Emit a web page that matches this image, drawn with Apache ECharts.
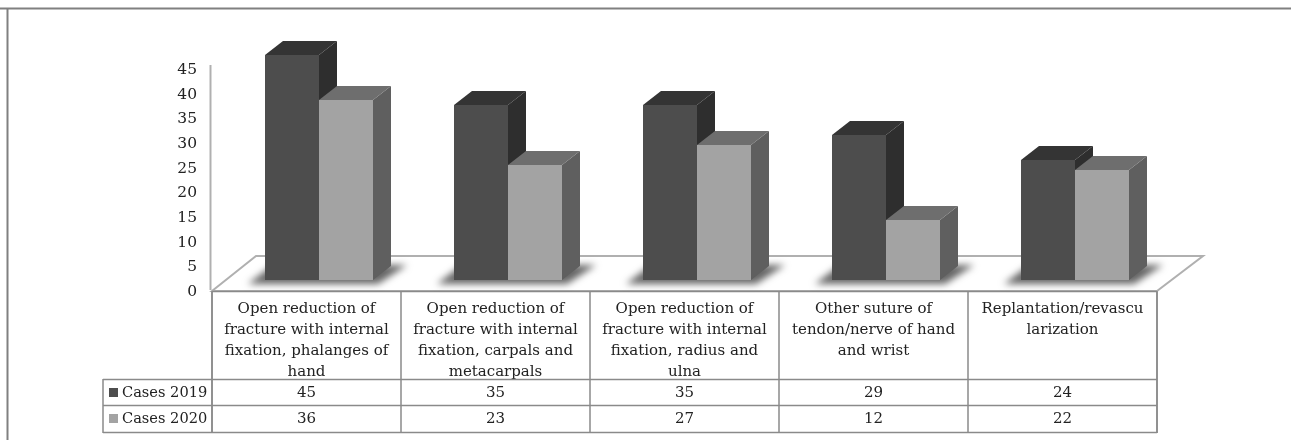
<!DOCTYPE html>
<html><head><meta charset="utf-8">
<style>html,body{margin:0;padding:0;background:#fff}#c{width:1291px;height:440px}</style>
<script src="https://cdn.jsdelivr.net/npm/echarts@6/dist/echarts.min.js"></script>
</head><body><div id="c"></div>
<script>
const categories = [
  'Open reduction of\nfracture with internal\nfixation, phalanges of\nhand',
  'Open reduction of\nfracture with internal\nfixation, carpals and\nmetacarpals',
  'Open reduction of\nfracture with internal\nfixation, radius and\nulna',
  'Other suture of\ntendon/nerve of hand\nand wrist',
  'Replantation/revascu\nlarization'
];
const cases2019 = [45, 35, 35, 29, 24];
const cases2020 = [36, 23, 27, 12, 22];
const seriesNames = ['Cases 2019', 'Cases 2020'];
const tickValues = [0, 45, 5];

const FONT = '"DejaVu Serif"', TXT = '#222', LINE = '#8a8a8a', FLOOR = '#b0b0b0';
const DX = 18, DY = 14, FAR = 3000;
const dark = {front:'#4d4d4d', top:'#343434', side:'#2e2e2e'};
const light = {front:'#a3a3a3', top:'#6e6e6e', side:'#5f5f5f'};

function barSeries(name, values, pal, slot) {
  return {
    type:'custom', name, xAxisIndex:1, yAxisIndex:1, z:5, clip:false,
    data: values.map((v,i)=>[i,v]),
    renderItem(params, api) {
      const band = api.size([1,0])[0], w = band*2/7;
      const p = api.coord([api.value(0), api.value(1)]);
      const b = api.coord([api.value(0), 0]);
      const x0 = p[0] + (slot-1)*w, x1 = x0+w, y0 = p[1], y1 = b[1];
      const poly = (pts, fill) => ({type:'polygon', shape:{points:pts}, style:{fill}});
      return {type:'group', children:[
        poly([[x1,y0],[x1+DX,y0-DY],[x1+DX,y1-DY],[x1,y1]], pal.side),
        poly([[x0,y0],[x0+DX,y0-DY],[x1+DX,y0-DY],[x1,y0]], pal.top),
        poly([[x0,y0],[x1,y0],[x1,y1],[x0,y1]], pal.front)
      ]};
    }
  };
}

const shadowSeries = {
  type:'custom', name:'shadow', xAxisIndex:1, yAxisIndex:1, z:3, clip:false, silent:true,
  data: categories.map((c,i)=>[i,0]),
  renderItem(params, api) {
    const band = api.size([1,0])[0], w = band*2/7;
    const b = api.coord([api.value(0), 0]);
    const L = b[0]-w-FAR, R = b[0]+w-FAR, y = b[1];
    return {type:'polygon', shape:{points:[[L-17,y+4],[R+5,y+4],[R+34,y-15],[L+8,y-15]]},
      style:{fill:'#555', shadowColor:'#666', shadowBlur:7, shadowOffsetX:FAR}};
  }
};

const tableSeries = {
  type:'custom', name:'table', xAxisIndex:2, yAxisIndex:2, z:6, silent:true, clip:false,
  data: categories.map((c,i)=>[i,0]),
  renderItem(params, api) {
    const i = api.value(0), x = api.coord([i,0])[0];
    const t = (s,y)=>({type:'text', style:{text:String(s), x, y, align:'center', verticalAlign:'middle',
      font:'15px '+FONT, fill:TXT}});
    return {type:'group', children:[t(cases2019[i],393), t(cases2020[i],419)]};
  }
};

const ln = (x1,y1,x2,y2,c,w)=>({type:'line', shape:{x1,y1,x2,y2}, style:{stroke:c,lineWidth:w||1.5}, z:1});
const graphics = [
  ln(0,8.5,1291,8.5,'#808080',2), ln(7.5,8,7.5,440,'#808080',2),
  ln(210.5,65,210.5,290,FLOOR,2),
  {type:'polygon', shape:{points:[[212,291],[256,256],[1203,256],[1157,291]]}, style:{fill:'#fff',stroke:FLOOR,lineWidth:2}, z:0},
  ln(212,291.5,1157,291.5,LINE), ln(103,379.5,1157,379.5,LINE), ln(103,405.5,1157,405.5,LINE), ln(103,432.5,1157,432.5,LINE),
  ln(103,379,103,433,LINE), ln(212,291,212,433,LINE), ln(1157,291,1157,433,LINE),
  {type:'rect', shape:{x:109,y:388,width:9,height:9}, style:{fill:dark.front}, z:2},
  {type:'rect', shape:{x:109,y:414,width:9,height:9}, style:{fill:light.front}, z:2},
  {type:'text', style:{text:seriesNames[0], x:122, y:393, verticalAlign:'middle', font:'14.6px '+FONT, fill:TXT}, z:2},
  {type:'text', style:{text:seriesNames[1], x:122, y:419, verticalAlign:'middle', font:'14.6px '+FONT, fill:TXT}, z:2}
];

const chart = echarts.init(document.getElementById('c'), null, {renderer:'canvas'});
chart.setOption({
  animation:false, backgroundColor:'#fff', tooltip:{show:false},
  grid:[
    {left:212, width:945, top:70, height:222},
    {left:224.5, width:945, top:55, height:225},
    {left:212, width:945, top:291, height:1}
  ],
  xAxis:[
    {gridIndex:0, type:'category', data:categories, show:false},
    {gridIndex:1, type:'category', data:categories, show:false},
    {gridIndex:2, type:'category', data:categories, position:'bottom',
     axisLine:{show:false},
     axisTick:{show:true, length:141, lineStyle:{color:LINE, width:1.5}},
     axisLabel:{interval:0, margin:7, fontFamily:FONT, fontSize:15, color:TXT, lineHeight:21, verticalAlign:'top', align:'center'}}
  ],
  yAxis:[
    {gridIndex:0, type:'value', min:tickValues[0], max:tickValues[1], interval:tickValues[2],
     axisLine:{show:false}, axisTick:{show:false}, splitLine:{show:false},
     axisLabel:{margin:15, fontFamily:FONT, fontSize:15.5, color:TXT}},
    {gridIndex:1, type:'value', min:tickValues[0], max:tickValues[1], show:false, splitLine:{show:false}},
    {gridIndex:2, type:'value', min:0, max:1, show:false, splitLine:{show:false}}
  ],
  graphic:{elements:graphics},
  series:[
    shadowSeries,
    barSeries(seriesNames[0], cases2019, dark, 0),
    barSeries(seriesNames[1], cases2020, light, 1),
    tableSeries
  ]
});
</script></body></html>
